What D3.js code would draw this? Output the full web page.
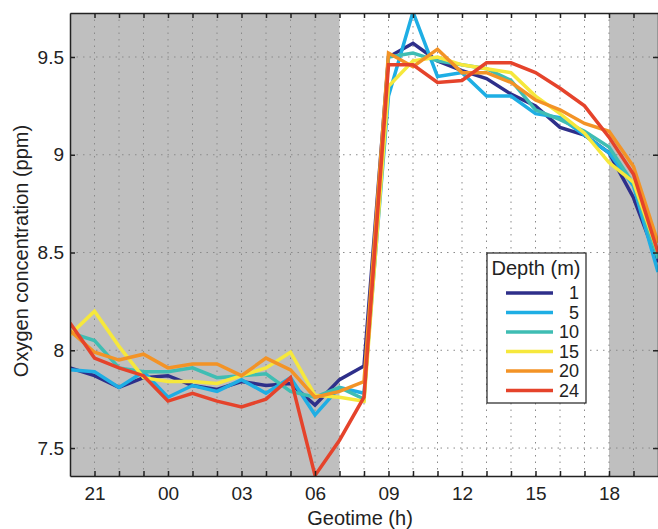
<!DOCTYPE html>
<html>
<head>
<meta charset="utf-8">
<script src="https://cdn.jsdelivr.net/npm/d3@7"></script>
<style>
  body { margin: 0; background: #fff; }
  svg { font-family: "Liberation Sans", Arial, Helvetica, sans-serif; }
</style>
</head>
<body>
<svg id="chart" width="658" height="529"></svg>
<script>
// hourly samples, 20h of day 1 to 20h of day 2 (hours > 24 are next day)
var hours = [20, 21, 22, 23, 24, 25, 26, 27, 28, 29, 30, 31, 32,
             33, 34, 35, 36, 37, 38, 39, 40, 41, 42, 43, 44];

var depths = ['1', '5', '10', '15', '20', '24'];
var colors = ['#2e2f8a', '#1eaee4', '#3fbdb3', '#f6e83c', '#f39326', '#e5432b'];

var depth1  = [7.91, 7.87, 7.81, 7.86, 7.87, 7.82, 7.80, 7.84, 7.82, 7.83, 7.72, 7.85, 7.92,
               9.50, 9.57, 9.48, 9.43, 9.39, 9.31, 9.25, 9.14, 9.10, 9.01, 8.78, 8.45];
var depth5  = [7.90, 7.89, 7.81, 7.89, 7.76, 7.82, 7.79, 7.85, 7.78, 7.86, 7.67, 7.81, 7.78,
               9.30, 9.73, 9.40, 9.42, 9.30, 9.30, 9.21, 9.19, 9.10, 9.01, 8.84, 8.40];
var depth10 = [8.09, 8.05, 7.91, 7.89, 7.89, 7.91, 7.86, 7.87, 7.88, 7.79, 7.76, 7.81, 7.75,
               9.50, 9.52, 9.48, 9.46, 9.44, 9.38, 9.23, 9.18, 9.12, 9.04, 8.85, 8.47];
var depth15 = [8.08, 8.20, 8.02, 7.86, 7.84, 7.84, 7.83, 7.87, 7.91, 7.99, 7.77, 7.76, 7.74,
               9.35, 9.48, 9.50, 9.46, 9.44, 9.42, 9.30, 9.21, 9.11, 8.96, 8.86, 8.50];
var depth20 = [8.10, 7.99, 7.95, 7.98, 7.91, 7.93, 7.93, 7.87, 7.96, 7.90, 7.76, 7.79, 7.84,
               9.52, 9.45, 9.54, 9.42, 9.42, 9.37, 9.28, 9.23, 9.16, 9.12, 8.94, 8.55];
var depth24 = [8.14, 7.96, 7.91, 7.87, 7.74, 7.78, 7.74, 7.71, 7.75, 7.86, 7.36, 7.54, 7.76,
               9.46, 9.46, 9.37, 9.38, 9.47, 9.47, 9.42, 9.34, 9.25, 9.09, 8.90, 8.50];

var series = [depth1, depth5, depth10, depth15, depth20, depth24];

// night periods (shaded)
var nights = [[20, 31], [42, 44]];

var tickHours  = [21, 24, 27, 30, 33, 36, 39, 42];
var tickLabels = ['21', '00', '03', '06', '09', '12', '15', '18'];
var yTicks = [7.5, 8, 8.5, 9, 9.5];

var plotL = 70, plotR = 658, plotT = 13, plotB = 476;

var x = d3.scaleLinear().domain([20, 44]).range([plotL, plotR]);
var y = d3.scaleLinear().domain([7.357, 9.725]).range([plotB, plotT]);

var svg = d3.select('#chart');

svg.append('clipPath').attr('id', 'plot')
  .append('rect')
  .attr('x', plotL).attr('y', plotT)
  .attr('width', plotR - plotL).attr('height', plotB - plotT);

svg.selectAll('.night')
  .data(nights)
  .enter().append('rect')
  .attr('class', 'night')
  .attr('x', function(d) { return x(d[0]); })
  .attr('y', plotT)
  .attr('width', function(d) { return x(d[1]) - x(d[0]); })
  .attr('height', plotB - plotT)
  .style('fill', '#bfbfbf');

// dotted grid
var gridHours = d3.range(21, 44);
svg.selectAll('.vgrid')
  .data(gridHours)
  .enter().append('line')
  .attr('class', 'vgrid')
  .attr('x1', function(d) { return x(d); })
  .attr('x2', function(d) { return x(d); })
  .attr('y1', plotT).attr('y2', plotB)
  .style('stroke', '#8a8a8a')
  .style('stroke-width', 1)
  .style('stroke-dasharray', '1.5,5');

svg.selectAll('.hgrid')
  .data(yTicks)
  .enter().append('line')
  .attr('class', 'hgrid')
  .attr('x1', plotL).attr('x2', plotR)
  .attr('y1', function(d) { return y(d); })
  .attr('y2', function(d) { return y(d); })
  .style('stroke', '#8a8a8a')
  .style('stroke-width', 1)
  .style('stroke-dasharray', '1.5,5');

var line = d3.line()
  .x(function(d, i) { return x(hours[i]); })
  .y(function(d) { return y(d); });

svg.append('g')
  .attr('clip-path', 'url(#plot)')
  .selectAll('path')
  .data(series)
  .enter().append('path')
  .attr('d', line)
  .style('fill', 'none')
  .style('stroke', function(d, i) { return colors[i]; })
  .style('stroke-width', 3.5)
  .style('stroke-linejoin', 'miter');

// axes (ticks pointing inward, like the original)
var xBottom = d3.axisBottom(x).tickValues(d3.range(21, 44)).tickSizeInner(-5).tickSizeOuter(0)
  .tickFormat(function(d) { var k = tickHours.indexOf(d); return k < 0 ? '' : tickLabels[k]; })
  .tickPadding(11);
var xTop = d3.axisTop(x).tickValues(d3.range(21, 44)).tickSizeInner(-5).tickSizeOuter(0)
  .tickFormat('');
var yLeft = d3.axisLeft(y).tickValues(yTicks).tickSizeInner(-5).tickSizeOuter(0)
  .tickFormat(d3.format('')).tickPadding(6);
var yRight = d3.axisRight(y).tickValues(yTicks).tickSizeInner(-5).tickSizeOuter(0)
  .tickFormat('');

function style(g) {
  g.select('.domain').style('stroke', '#222').style('stroke-width', 1.5);
  g.selectAll('.tick line').style('stroke', '#222').style('stroke-width', 1.5);
  g.selectAll('.tick text').style('font-size', '19px').style('fill', '#222')
    .style('font-family', '"Liberation Sans", Arial, sans-serif');
}

svg.append('g').attr('transform', 'translate(0,' + plotB + ')').call(xBottom).call(style);
svg.append('g').attr('transform', 'translate(0,' + plotT + ')').call(xTop).call(style);
svg.append('g').attr('transform', 'translate(' + plotL + ',0)').call(yLeft).call(style);
svg.append('g').attr('transform', 'translate(' + plotR + ',0)').call(yRight).call(style);

svg.append('text')
  .attr('x', 360).attr('y', 525)
  .attr('text-anchor', 'middle')
  .style('font-size', '20px').style('fill', '#222')
  .text('Geotime (h)');

svg.append('text')
  .attr('transform', 'translate(28,251) rotate(-90)')
  .attr('text-anchor', 'middle')
  .style('font-size', '20px').style('fill', '#222')
  .text('Oxygen concentration (ppm)');

// legend
var legend = svg.append('g');
legend.append('rect')
  .attr('x', 487).attr('y', 253)
  .attr('width', 99).attr('height', 150)
  .style('fill', '#fff')
  .style('stroke', '#222')
  .style('stroke-width', 1.2);

legend.append('text')
  .attr('x', 536).attr('y', 275)
  .attr('text-anchor', 'middle')
  .style('font-size', '20px').style('fill', '#222')
  .text('Depth (m)');

var entries = legend.selectAll('.entry')
  .data(depths)
  .enter().append('g')
  .attr('class', 'entry')
  .attr('transform', function(d, i) { return 'translate(0,' + (293 + i * 19.5) + ')'; });

entries.append('line')
  .attr('x1', 506).attr('x2', 553)
  .attr('y1', 0).attr('y2', 0)
  .style('stroke', function(d, i) { return colors[i]; })
  .style('stroke-width', 3.5);

entries.append('text')
  .attr('x', 579).attr('y', 6)
  .attr('text-anchor', 'end')
  .style('font-size', '18px').style('fill', '#222')
  .text(function(d) { return d; });
</script>
</body>
</html>
